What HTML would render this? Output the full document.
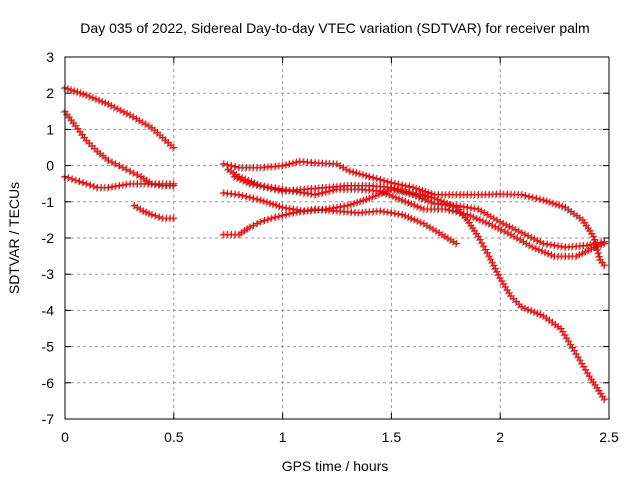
<!DOCTYPE html>
<html><head><meta charset="utf-8"><style>
body{margin:0;background:#fff}
svg{display:block;font-family:"Liberation Sans",sans-serif}
</style></head><body>
<svg id="c" width="640" height="480">
<rect width="640" height="480" fill="#fff"/>
<text x="335" y="33" font-size="14" text-anchor="middle">Day 035 of 2022, Sidereal Day-to-day VTEC variation (SDTVAR) for receiver palm</text>
<text x="335" y="471" font-size="14" text-anchor="middle">GPS time / hours</text>
<text transform="translate(19,238) rotate(-90)" font-size="14" text-anchor="middle">SDTVAR / TECUs</text>
<g id="grid"></g><g id="ser"></g>
<rect x="65" y="57" width="544" height="362" fill="none" stroke="#000"/>
</svg>
<script>
const xTicks=[0,0.5,1,1.5,2,2.5];
const yTicks=[3,2,1,0,-1,-2,-3,-4,-5,-6,-7];
const sA=[[0,2.15],[0.1,1.95],[0.2,1.7],[0.3,1.4],[0.4,1.05],[0.5,0.5]];
const sB=[[0,1.5],[0.05,1.1],[0.1,0.7],[0.15,0.4],[0.2,0.15],[0.25,0],[0.3,-0.15],[0.35,-0.3],[0.4,-0.5],[0.45,-0.55],[0.5,-0.55]];
const sC=[[0,-0.3],[0.05,-0.4],[0.1,-0.5],[0.15,-0.6],[0.2,-0.6],[0.25,-0.55],[0.3,-0.5],[0.4,-0.5],[0.5,-0.5]];
const sD=[[0.32,-1.1],[0.36,-1.25],[0.4,-1.35],[0.45,-1.45],[0.5,-1.45]];
const sE=[[0.73,0.05],[0.8,-0.05],[0.9,-0.05],[1.0,0],[1.08,0.12],[1.15,0.08],[1.25,0.05],[1.31,-0.15],[1.4,-0.3],[1.5,-0.47],[1.6,-0.6],[1.7,-0.8],[1.8,-0.8],[1.9,-0.8],[2.0,-0.78],[2.1,-0.8],[2.2,-0.95],[2.3,-1.15],[2.38,-1.5],[2.43,-1.95],[2.46,-2.6],[2.48,-2.75]];
const sF=[[0.75,-0.1],[0.8,-0.3],[0.9,-0.55],[1.0,-0.7],[1.1,-0.65],[1.2,-0.6],[1.3,-0.55],[1.4,-0.55],[1.5,-0.6],[1.6,-0.8],[1.7,-1.05],[1.8,-1.1],[1.9,-1.2],[2.0,-1.55],[2.1,-1.85],[2.2,-2.15],[2.3,-2.25],[2.4,-2.2],[2.48,-2.1]];
const sG=[[0.78,-0.3],[0.85,-0.5],[0.95,-0.6],[1.05,-0.7],[1.15,-0.8],[1.25,-0.65],[1.35,-0.65],[1.45,-0.7],[1.55,-0.95],[1.65,-1.2],[1.75,-1.2],[1.85,-1.35],[1.95,-1.6],[2.05,-1.9],[2.15,-2.25],[2.25,-2.5],[2.35,-2.5],[2.42,-2.3],[2.48,-2.15]];
const sH=[[0.73,-0.75],[0.8,-0.8],[0.9,-0.95],[1.0,-1.15],[1.1,-1.25],[1.2,-1.2],[1.3,-1.1],[1.4,-0.9],[1.5,-0.65],[1.6,-0.75],[1.7,-0.9],[1.8,-1.15],[1.85,-1.5],[1.9,-1.95],[1.95,-2.5],[2.0,-3.1],[2.05,-3.6],[2.1,-3.9],[2.2,-4.15],[2.28,-4.5],[2.35,-5.2],[2.42,-5.9],[2.48,-6.45]];
const sI=[[0.73,-1.9],[0.8,-1.9],[0.85,-1.7],[0.9,-1.55],[0.95,-1.45],[1.05,-1.3],[1.15,-1.2],[1.25,-1.25],[1.35,-1.3],[1.45,-1.25],[1.55,-1.35],[1.65,-1.6],[1.72,-1.85],[1.8,-2.15]];
const series=[sA,sB,sC,sD,sE,sF,sG,sH,sI];
const NS="http://www.w3.org/2000/svg";
const X=v=>65+v*(544/2.5), Y=v=>57+(3-v)*(362/10);
function mk(t,a,p){const e=document.createElementNS(NS,t);for(const k in a)e.setAttribute(k,a[k]);p.appendChild(e);return e;}
const g=document.getElementById('grid'),s=document.getElementById('ser');
xTicks.forEach(t=>{const x=X(t);
 if(t>0&&t<2.5){const l=mk('line',{x1:x,x2:x,y1:57,y2:419,stroke:'#999','stroke-dasharray':'3,3'},g);}
 mk('line',{x1:x,x2:x,y1:419,y2:413,stroke:'#000'},g);mk('line',{x1:x,x2:x,y1:57,y2:63,stroke:'#000'},g);
 const tx=mk('text',{x:x,y:442,'font-size':14,'text-anchor':'middle'},g);tx.textContent=t;
 });
yTicks.forEach(t=>{const y=Y(t);
 if(t<3&&t>-7){const l=mk('line',{x1:65,x2:609,y1:y,y2:y,stroke:'#999','stroke-dasharray':'3,3'},g);}
 mk('line',{x1:65,x2:71,y1:y,y2:y,stroke:'#000'},g);mk('line',{x1:603,x2:609,y1:y,y2:y,stroke:'#000'},g);
 const tx=mk('text',{x:54,y:y+5,'font-size':14,'text-anchor':'end'},g);tx.textContent=t;
 });
series.forEach((pts,i)=>{
 const grp=mk('g',{},s);
 
 
 let d='';
 for(let j=0;j<pts.length-1;j++){
  const x0=X(pts[j][0]),y0=Y(pts[j][1]),x1=X(pts[j+1][0]),y1=Y(pts[j+1][1]);
  const n=Math.max(1,Math.round(Math.hypot(x1-x0,y1-y0)/3.5));
  for(let k=0;k<n;k++){const x=x0+(x1-x0)*k/n,y=y0+(y1-y0)*k/n;d+=`M${x-3.5},${y}h7M${x},${y-3.5}v7`;}
 }
 const L=pts[pts.length-1];const x=X(L[0]),y=Y(L[1]);d+=`M${x-3.5},${y}h7M${x},${y-3.5}v7`;
 mk('path',{d:d,stroke:'#333','stroke-width':0.7,'stroke-opacity':0.6,transform:'translate(-1,1)',fill:'none'},grp);
 mk('path',{d:d,stroke:'#f00','stroke-width':1,fill:'none'},grp);
});
</script>
</body></html>
